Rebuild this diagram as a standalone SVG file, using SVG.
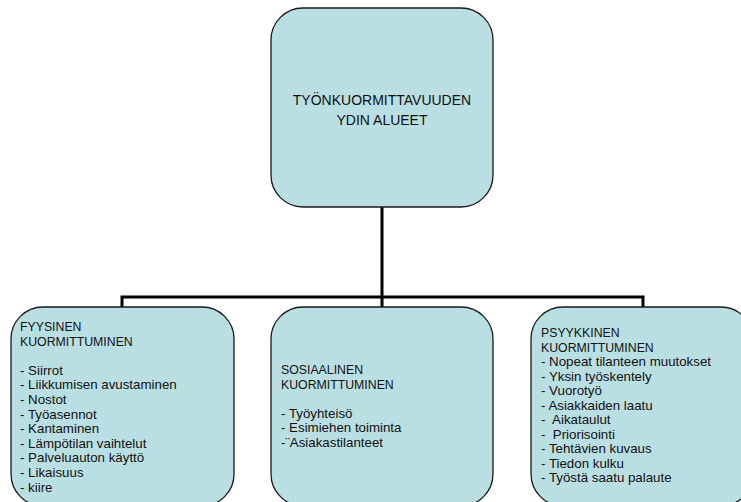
<svg xmlns="http://www.w3.org/2000/svg" width="741" height="502" viewBox="0 0 741 502">
<style>
.box{fill:#b9dfe2;stroke:#1a1a1a;stroke-width:1.3}
.conn{stroke:#000;stroke-width:3;fill:none}
text{font-family:"Liberation Sans",Arial,sans-serif;font-size:13.3px;fill:#111;white-space:pre}
.h{font-size:12.3px}
.title{font-size:14px;text-anchor:middle}
</style>
<rect width="741" height="502" fill="#fff"/>
<g id="connectors">
<path class="conn" d="M382 207 V297 M122 308 V297 H643 V308 M382 297 V308"/>
</g>
<g id="top">
<rect class="box" x="271" y="8" width="222" height="199" rx="32"/>
<text class="title" x="382" y="105">TYÖNKUORMITTAVUUDEN</text>
<text class="title" x="382" y="125">YDIN ALUEET</text>
</g>
<g id="fyysinen">
<rect class="box" x="11" y="307" width="223" height="199" rx="32"/>
<text class="h" x="20" y="331">FYYSINEN</text>
<text class="h" x="20" y="345.6">KUORMITTUMINEN</text>
<text x="20" y="374.8">- Siirrot</text>
<text x="20" y="389.4">- Liikkumisen avustaminen</text>
<text x="20" y="404">- Nostot</text>
<text x="20" y="418.6">- Työasennot</text>
<text x="20" y="433.2">- Kantaminen</text>
<text x="20" y="447.8">- Lämpötilan vaihtelut</text>
<text x="20" y="462.4">- Palveluauton käyttö</text>
<text x="20" y="477">- Likaisuus</text>
<text x="20" y="491.6">- kiire</text>
</g>
<g id="sosiaalinen">
<rect class="box" x="271" y="307" width="222" height="199" rx="32"/>
<text class="h" x="281" y="374">SOSIAALINEN</text>
<text class="h" x="281" y="388.6">KUORMITTUMINEN</text>
<text x="281" y="417.8">- Työyhteisö</text>
<text x="281" y="432.4">- Esimiehen toiminta</text>
<text x="281" y="447">-¨Asiakastilanteet</text>
</g>
<g id="psyykkinen">
<rect class="box" x="531" y="307" width="222" height="199" rx="32"/>
<text class="h" x="541" y="337">PSYYKKINEN</text>
<text class="h" x="541" y="351.5">KUORMITTUMINEN</text>
<text x="541" y="366">- Nopeat tilanteen muutokset</text>
<text x="541" y="380.5">- Yksin työskentely</text>
<text x="541" y="395">- Vuorotyö</text>
<text x="541" y="409.5">- Asiakkaiden laatu</text>
<text x="541" y="424">-  Aikataulut</text>
<text x="541" y="438.5">-  Priorisointi</text>
<text x="541" y="453">- Tehtävien kuvaus</text>
<text x="541" y="467.5">- Tiedon kulku</text>
<text x="541" y="482">- Työstä saatu palaute</text>
</g>
</svg>
